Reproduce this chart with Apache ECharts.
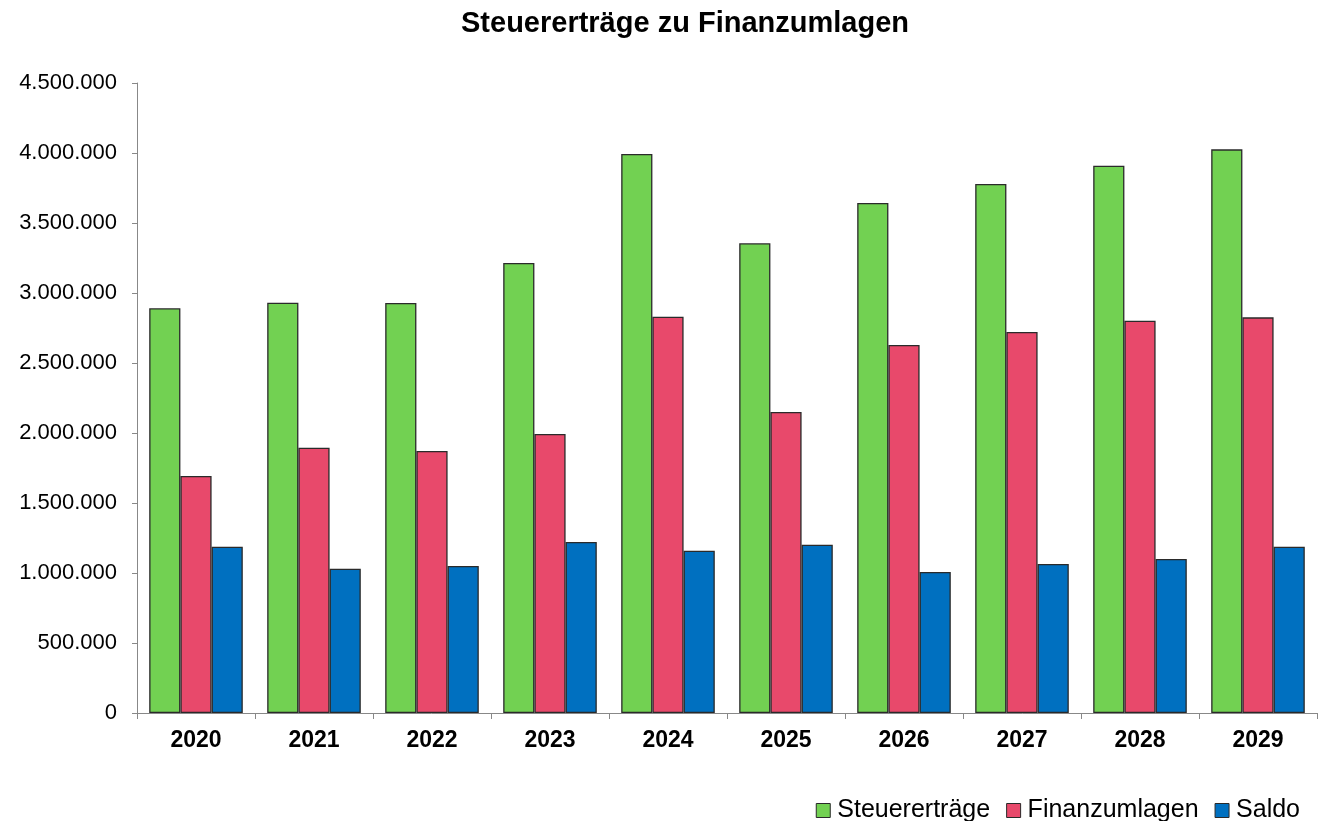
<!DOCTYPE html>
<html>
<head>
<meta charset="utf-8">
<script src="https://cdn.jsdelivr.net/npm/echarts@6/dist/echarts.min.js"></script>
<style>
  html, body { margin: 0; padding: 0; background: #fff; }
  #chart { width: 1323px; height: 821px; }
</style>
</head>
<body>
<div id="chart"></div>
<script>
const years = ["2020", "2021", "2022", "2023", "2024", "2025", "2026", "2027", "2028", "2029"];
const steuerertraege = [2891000, 2931000, 2929000, 3214000, 3993000, 3355000, 3643000, 3779000, 3909000, 4026000];
const finanzumlagen = [1693000, 1895000, 1871000, 1993000, 2831000, 2150000, 2629000, 2721000, 2802000, 2826000];
const saldo = [1188000, 1031000, 1050000, 1221000, 1159000, 1202000, 1007000, 1064000, 1100000, 1188000];

const fmt = (v) => String(v).replace(/\B(?=(\d{3})+(?!\d))/g, ".");
const font = "'Liberation Sans', Arial, sans-serif";

function barSeries(name, data, color) {
  return {
    name: name,
    type: "bar",
    data: data,
    barGap: "0%",
    barCategoryGap: "20.7%",
    itemStyle: { color: color, borderColor: "#2a2a2a", borderWidth: 1.3 }
  };
}

const chart = echarts.init(document.getElementById("chart"));
chart.setOption({
  animation: false,
  title: {
    text: "Steuererträge zu Finanzumlagen",
    left: 680,
    textAlign: "center",
    top: 4,
    textStyle: { fontFamily: font, fontSize: 29, fontWeight: "bold", color: "#000" }
  },
  grid: { left: 137, right: 6, top: 83, bottom: 108 },
  legend: {
    right: 18,
    bottom: -7,
    itemWidth: 14,
    itemHeight: 14,
    itemGap: 16,
    icon: "rect",
    itemStyle: { borderColor: "#2a2a2a", borderWidth: 1 },
    textStyle: { fontFamily: font, fontSize: 25, color: "#000", padding: [0, 0, 0, 2] },
    data: ["Steuererträge", "Finanzumlagen", "Saldo"]
  },
  xAxis: {
    type: "category",
    data: years,
    axisLine: { lineStyle: { color: "#888" } },
    axisTick: { show: true, length: 6, lineStyle: { color: "#888" } },
    axisLabel: { fontFamily: font, fontSize: 23, fontWeight: "bold", color: "#000", margin: 16 }
  },
  yAxis: {
    type: "value",
    min: 0,
    max: 4500000,
    interval: 500000,
    axisLine: { show: true, lineStyle: { color: "#888" } },
    axisTick: { show: true, length: 5, lineStyle: { color: "#888" } },
    splitLine: { show: false },
    axisLabel: { fontFamily: font, fontSize: 22, color: "#000", margin: 20, formatter: fmt }
  },
  series: [
    barSeries("Steuererträge", steuerertraege, "#72D152"),
    barSeries("Finanzumlagen", finanzumlagen, "#E8496B"),
    barSeries("Saldo", saldo, "#0070C0")
  ]
});
</script>
</body>
</html>
